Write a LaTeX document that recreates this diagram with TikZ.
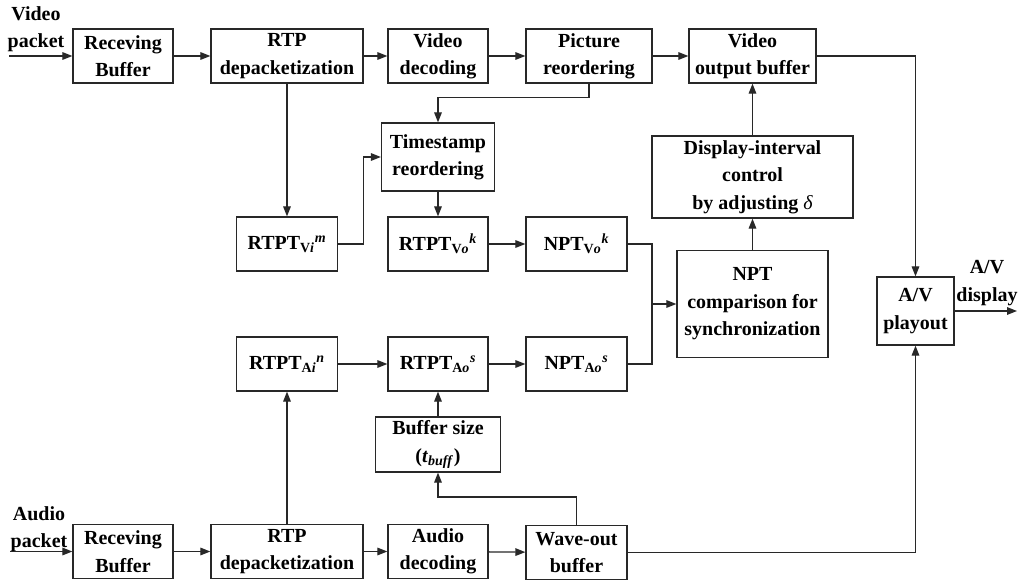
\documentclass[tikz,border=0pt]{standalone}
\usepackage{fontspec}
\setmainfont{Liberation Serif}
\usepackage{tikz}
\usetikzlibrary{shapes,arrows.meta,positioning}
\definecolor{linegray}{RGB}{40, 40, 40}

\begin{document}
\begin{tikzpicture}[
    x=0.025cm, y=-0.025cm,
    every node/.style={align=center, font=\bfseries\fontsize{14.2}{19.5}\selectfont},
    block/.style={rectangle, minimum width=2.5cm, minimum height=1.35cm, inner sep=1pt, text centered, draw=linegray, line width=0.9pt},
    arrow/.style={draw=linegray, line width=0.9pt, -{Triangle[length=2.5mm, width=1.9mm]}},
    line/.style={draw=linegray, line width=0.9pt}
]
\useasboundingbox (0,0) rectangle (1019,581);

% Video path
\node (vpk) at (36,29) {Video\\packet};
\coordinate (vin) at (9,56);
\node[block] (vrecv) at (123,56) {Receving\\Buffer};
\node[block, minimum width=3.8cm] (vrtp) at (287,56) {RTP\\depacketization};
\node[block] (vdec) at (438,56) {Video\\decoding};
\node[block, minimum width=3.15cm] (picre) at (589,56) {Picture\\reordering};
\node[block, minimum width=3.175cm] (vout) at (752.5,56) {Video\\output buffer};

% Timestamps
\node[block, minimum width=2.825cm, minimum height=1.7cm] (tsre) at (438,157) {Timestamp\\reordering};
\node[block, minimum width=2.525cm] (rtptvi) at (287,244) {RTPT\textsubscript{V\textit{i}}\textsuperscript{\textit{m}}};
\node[block] (rtptvo) at (438,244) {RTPT\textsubscript{V\textit{o}}\textsuperscript{\textit{k}}};
\node[block, minimum width=2.525cm] (nptvo) at (576.5,244) {NPT\textsubscript{V\textit{o}}\textsuperscript{\textit{k}}};
\node[block, minimum width=2.525cm] (rtptai) at (287,364) {RTPT\textsubscript{A\textit{i}}\textsuperscript{\textit{n}}};
\node[block] (rtptao) at (438,364) {RTPT\textsubscript{A\textit{o}}\textsuperscript{\textit{s}}};
\node[block, minimum width=2.525cm] (nptao) at (576.5,364) {NPT\textsubscript{A\textit{o}}\textsuperscript{\textit{s}}};
\node[block, minimum width=3.125cm, minimum height=1.375cm] (bufsz) at (438,444.5) {Buffer size\\(\textit{t}\textsubscript{\textit{buff}})};

% Synchronization
\node[block, minimum width=5.025cm, minimum height=2.05cm] (disp) at (752.5,177) {Display-interval\\control\\by adjusting {\mdseries\itshape δ}};
\node[block, minimum width=3.775cm, minimum height=2.675cm] (nptcmp) at (752.5,304) {NPT\\comparison for\\synchronization};
\node[block, minimum width=1.925cm, minimum height=1.7cm] (avplay) at (915.5,311) {A/V\\playout};
\node (avd) at (987,283) {A/V\\display};
\coordinate (avout) at (1017,311);
\coordinate (jn) at (652,304);

% Audio path
\node (apk) at (39,529) {Audio\\packet};
\coordinate (ain) at (10,551.5);
\node[block] (arecv) at (123,551.5) {Receving\\Buffer};
\node[block, minimum width=3.8cm] (artp) at (287,551.5) {RTP\\depacketization};
\node[block] (adec) at (438,551.5) {Audio\\decoding};
\node[block, minimum width=2.525cm] (wave) at (576.5,552.5) {Wave-out\\buffer};

% Connections
\draw[arrow] (vin) -- (vrecv);
\draw[arrow] (vrecv) -- (vrtp);
\draw[arrow] (vrtp) -- (vdec);
\draw[arrow] (vdec) -- (picre);
\draw[arrow] (picre) -- (vout);
\draw[arrow] (vrtp) -- (rtptvi);
\draw[arrow] (picre.south) -- ++(0,14) -| (tsre.north);
\draw[arrow] (rtptvi.east) -- ++(25,0) |- (tsre.west);
\draw[arrow] (tsre) -- (rtptvo);
\draw[arrow] (rtptvo) -- (nptvo);
\draw[line] (nptvo.east) -| (jn);
\draw[line] (nptao.east) -| (jn);
\draw[arrow] (jn) -- (nptcmp);
\draw[arrow] (nptcmp) -- (disp);
\draw[arrow] (disp) -- (vout);
\draw[arrow] (vout.east) -| (avplay.north);
\draw[arrow] (avplay.east) -- (avout);

\draw[arrow] (ain) -- (arecv);
\draw[arrow] (arecv) -- (artp);
\draw[arrow] (artp) -- (adec);
\draw[arrow] (adec) -- (wave);
\draw[arrow] (artp) -- (rtptai);
\draw[arrow] (rtptai) -- (rtptao);
\draw[arrow] (rtptao) -- (nptao);
\draw[arrow] (bufsz) -- (rtptao);
\draw[arrow] (wave.north) -- ++(0,-28) -| (bufsz.south);
\draw[arrow] (wave.east) -| (avplay.south);

\end{tikzpicture}
\end{document}
